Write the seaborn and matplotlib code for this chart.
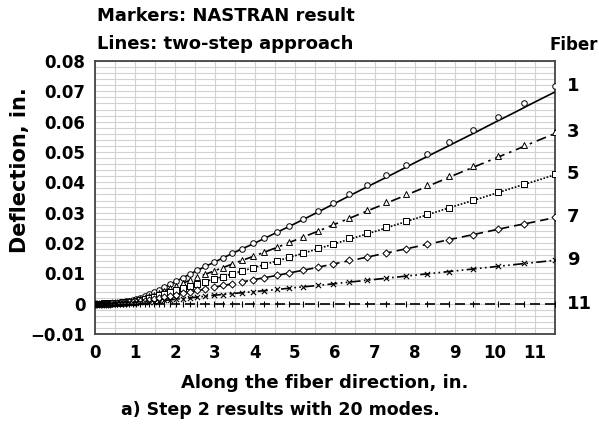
import numpy as np
import pandas as pd
import matplotlib
matplotlib.use("Agg")
import matplotlib.pyplot as plt
from matplotlib.ticker import MultipleLocator, FuncFormatter
import seaborn as sns

# NASTRAN nodal stations along the fiber (graded mesh, finer near the root)
node_x = [0, 0.03, 0.06, 0.10, 0.14, 0.18, 0.22, 0.27, 0.32, 0.37, 0.43, 0.49,
          0.55, 0.62, 0.69, 0.77, 0.85, 0.94, 1.03, 1.13, 1.24, 1.35, 1.47, 1.60,
          1.73, 1.88, 2.03, 2.20, 2.37, 2.56, 2.76, 2.97, 3.19, 3.43, 3.68, 3.96,
          4.23, 4.54, 4.86, 5.21, 5.57, 5.96, 6.36, 6.79, 7.28, 7.77, 8.29, 8.85,
          9.44, 10.07, 10.73, 11.50]

# NASTRAN deflections (in.) per fiber
nastran_f1 = [0, 0, 0, 0, 0, 0, 0.0001, 0.0001, 0.0001, 0.0001, 0.0002, 0.0002,
              0.0003, 0.0005, 0.0006, 0.0008, 0.0010, 0.0012, 0.0015, 0.0020, 0.0025,
              0.0031, 0.0037, 0.0045, 0.0054, 0.0064, 0.0074, 0.0086, 0.0097, 0.0110,
              0.0123, 0.0136, 0.0150, 0.0166, 0.0181, 0.0199, 0.0216, 0.0236, 0.0257,
              0.0280, 0.0305, 0.0332, 0.0360, 0.0390, 0.0423, 0.0457, 0.0494, 0.0532,
              0.0573, 0.0617, 0.0663, 0.0717]
nastran_f3 = [0, 0, 0, 0, 0, 0, 0.0001, 0.0001, 0.0001, 0.0001, 0.0002, 0.0002,
              0.0002, 0.0004, 0.0005, 0.0006, 0.0008, 0.0009, 0.0012, 0.0016, 0.0020,
              0.0024, 0.0029, 0.0036, 0.0043, 0.0051, 0.0058, 0.0068, 0.0077, 0.0087,
              0.0097, 0.0107, 0.0119, 0.0131, 0.0143, 0.0157, 0.0171, 0.0186, 0.0203,
              0.0221, 0.0241, 0.0262, 0.0284, 0.0308, 0.0334, 0.0361, 0.0390, 0.0420,
              0.0453, 0.0487, 0.0524, 0.0567]
nastran_f5 = [0, 0, 0, 0, 0, 0, 0.0001, 0.0001, 0.0001, 0.0001, 0.0001, 0.0001,
              0.0002, 0.0003, 0.0004, 0.0005, 0.0006, 0.0007, 0.0009, 0.0012, 0.0015,
              0.0018, 0.0022, 0.0027, 0.0032, 0.0038, 0.0044, 0.0051, 0.0058, 0.0066,
              0.0073, 0.0081, 0.0089, 0.0099, 0.0108, 0.0119, 0.0129, 0.0141, 0.0153,
              0.0167, 0.0182, 0.0198, 0.0215, 0.0232, 0.0252, 0.0272, 0.0294, 0.0317,
              0.0342, 0.0368, 0.0395, 0.0427]
nastran_f7 = [0, 0, 0, 0, 0, 0, 0, 0, 0, 0, 0.0001, 0.0001,
              0.0001, 0.0002, 0.0002, 0.0003, 0.0004, 0.0005, 0.0006, 0.0008, 0.0010,
              0.0012, 0.0015, 0.0018, 0.0021, 0.0025, 0.0029, 0.0034, 0.0039, 0.0044,
              0.0049, 0.0054, 0.0060, 0.0066, 0.0072, 0.0079, 0.0086, 0.0094, 0.0102,
              0.0111, 0.0121, 0.0132, 0.0143, 0.0155, 0.0168, 0.0181, 0.0196, 0.0211,
              0.0227, 0.0245, 0.0263, 0.0285]
nastran_f9 = [0, 0, 0, 0, 0, 0, 0, 0, 0, 0, 0, 0,
              0.0001, 0.0001, 0.0001, 0.0002, 0.0002, 0.0002, 0.0003, 0.0004, 0.0005,
              0.0006, 0.0007, 0.0009, 0.0011, 0.0013, 0.0015, 0.0017, 0.0019, 0.0022,
              0.0025, 0.0027, 0.0030, 0.0033, 0.0036, 0.0040, 0.0043, 0.0047, 0.0051,
              0.0056, 0.0061, 0.0066, 0.0072, 0.0078, 0.0085, 0.0091, 0.0099, 0.0106,
              0.0115, 0.0123, 0.0133, 0.0143]
nastran_f11 = [0] * 52

# Two-step approach deflections (in.) at half-inch stations
step_x = [0, 0.5, 1, 1.5, 2, 2.5, 3, 3.5, 4, 4.5, 5, 5.5, 6, 6.5, 7, 7.5, 8,
          8.5, 9, 9.5, 10, 10.5, 11, 11.5]
twostep_f1 = [0, 0.0002, 0.0014, 0.0038, 0.0072, 0.0106, 0.0138, 0.0170, 0.0200,
              0.0232, 0.0264, 0.0297, 0.0331, 0.0365, 0.0398, 0.0431, 0.0465, 0.0498,
              0.0531, 0.0564, 0.0598, 0.0631, 0.0665, 0.0698]
twostep_f3 = [0, 0.0002, 0.0011, 0.0030, 0.0057, 0.0084, 0.0109, 0.0134, 0.0158,
              0.0183, 0.0209, 0.0235, 0.0262, 0.0289, 0.0316, 0.0343, 0.0370, 0.0397,
              0.0425, 0.0452, 0.0479, 0.0506, 0.0534, 0.0561]
twostep_f5 = [0, 0.0001, 0.0008, 0.0023, 0.0043, 0.0063, 0.0082, 0.0101, 0.0120,
              0.0139, 0.0158, 0.0178, 0.0198, 0.0218, 0.0238, 0.0259, 0.0280, 0.0301,
              0.0322, 0.0342, 0.0363, 0.0384, 0.0404, 0.0425]
twostep_f7 = [0, 0.0001, 0.0006, 0.0015, 0.0029, 0.0042, 0.0055, 0.0067, 0.0080,
              0.0092, 0.0105, 0.0118, 0.0132, 0.0145, 0.0159, 0.0173, 0.0187, 0.0201,
              0.0215, 0.0229, 0.0243, 0.0257, 0.0270, 0.0284]
twostep_f9 = [0, 0, 0.0003, 0.0008, 0.0014, 0.0021, 0.0028, 0.0034, 0.0040,
              0.0046, 0.0053, 0.0059, 0.0066, 0.0073, 0.0080, 0.0087, 0.0094, 0.0101,
              0.0108, 0.0115, 0.0122, 0.0129, 0.0136, 0.0143]
twostep_f11 = [0] * 24

fibers = ["1", "3", "5", "7", "9", "11"]
nastran = [nastran_f1, nastran_f3, nastran_f5, nastran_f7, nastran_f9, nastran_f11]
twostep = [twostep_f1, twostep_f3, twostep_f5, twostep_f7, twostep_f9, twostep_f11]

marker_df = pd.concat(
    [pd.DataFrame({"x": node_x, "w": w, "fiber": f}) for f, w in zip(fibers, nastran)],
    ignore_index=True)
line_df = pd.concat(
    [pd.DataFrame({"x": step_x, "w": w, "fiber": f}) for f, w in zip(fibers, twostep)],
    ignore_index=True)

line_dashes = {
    "1": "",
    "3": (6, 3, 1.5, 3),
    "5": (1, 1),
    "7": (5, 3),
    "9": (6, 2, 1, 2, 1, 2),
    "11": (6, 3),
}
marker_styles = {"1": "o", "3": "^", "5": "s", "7": "D", "9": "x", "11": "|"}
marker_sizes = {"1": 16, "3": 18, "5": 14, "7": 13, "9": 14, "11": 20}

sns.set_style("white")
plt.rcParams["font.family"] = ["DejaVu Sans"]
plt.rcParams["font.weight"] = "bold"
plt.rcParams["axes.unicode_minus"] = True
for key in ("text.color", "axes.labelcolor", "xtick.color", "ytick.color"):
    plt.rcParams[key] = "black"

W, H = 599, 430
fig = plt.figure(figsize=(W / 100, H / 100), dpi=100)
ax = fig.add_axes([95 / W, 1 - 334 / H, 460 / W, 273 / H])

sns.lineplot(data=line_df, x="x", y="w", style="fiber", dashes=line_dashes,
             color="black", linewidth=1.2, legend=False, ax=ax, zorder=3,
             estimator=None, sort=False)

for f in fibers:
    sub = marker_df[marker_df["fiber"] == f]
    m = marker_styles[f]
    if m in ("x", "|"):
        sns.scatterplot(data=sub, x="x", y="w", marker=m, color="black",
                        s=marker_sizes[f], linewidth=0.8, legend=False, ax=ax, zorder=4)
    else:
        sns.scatterplot(data=sub, x="x", y="w", marker=m, facecolor="white",
                        edgecolor="black", s=marker_sizes[f], linewidth=0.7,
                        legend=False, ax=ax, zorder=4)

ax.set_xlim(0, 11.5)
ax.set_ylim(-0.01, 0.08)
ax.set_xticks(range(0, 12))
ax.set_yticks(np.round(np.arange(-0.01, 0.0801, 0.01), 2))
ax.xaxis.set_minor_locator(MultipleLocator(0.5))
ax.yaxis.set_minor_locator(MultipleLocator(0.002))


def fmt_y(v, pos):
    if abs(v) < 1e-9:
        return "0"
    return f"{v:.2f}".replace("-", "\u2212")


ax.yaxis.set_major_formatter(FuncFormatter(fmt_y))
ax.grid(True, which="both", color="#d2d2d2", linewidth=0.8)
ax.set_axisbelow(True)
ax.tick_params(axis="both", which="both", length=0)
ax.tick_params(axis="y", pad=7, labelsize=12)
ax.tick_params(axis="x", pad=7, labelsize=12)
for lab in ax.get_xticklabels() + ax.get_yticklabels():
    lab.set_fontweight("bold")
for sp in ax.spines.values():
    sp.set_color("#444444")
    sp.set_linewidth(1.3)

ax.set_xlabel("Along the fiber direction, in.", fontsize=13, fontweight="bold",
              labelpad=9)
ax.set_ylabel("Deflection, in.", fontsize=15, fontweight="bold")
ax.yaxis.set_label_coords((20 - 95) / 460, (334 - 170) / 273)
ax.yaxis.label.set_va("center")

# fiber labels at the free end of each curve
for f, w in zip(fibers, nastran):
    ax.text(11.5 + 0.3, w[-1], f, fontsize=13, fontweight="bold",
            ha="left", va="center", clip_on=False)

fig.text(574 / W, 1 - 45 / H, "Fiber", fontsize=12, fontweight="bold",
         ha="center", va="center")
fig.text(97 / W, 1 - 16 / H, "Markers: NASTRAN result", fontsize=13,
         fontweight="bold", ha="left", va="center")
fig.text(97 / W, 1 - 44 / H, "Lines: two-step approach", fontsize=13,
         fontweight="bold", ha="left", va="center")
fig.text(121 / W, 1 - 410 / H, "a) Step 2 results with 20 modes.", fontsize=12.5,
         fontweight="bold", ha="left", va="center")

fig.savefig("out.png", dpi=100, facecolor="white")
